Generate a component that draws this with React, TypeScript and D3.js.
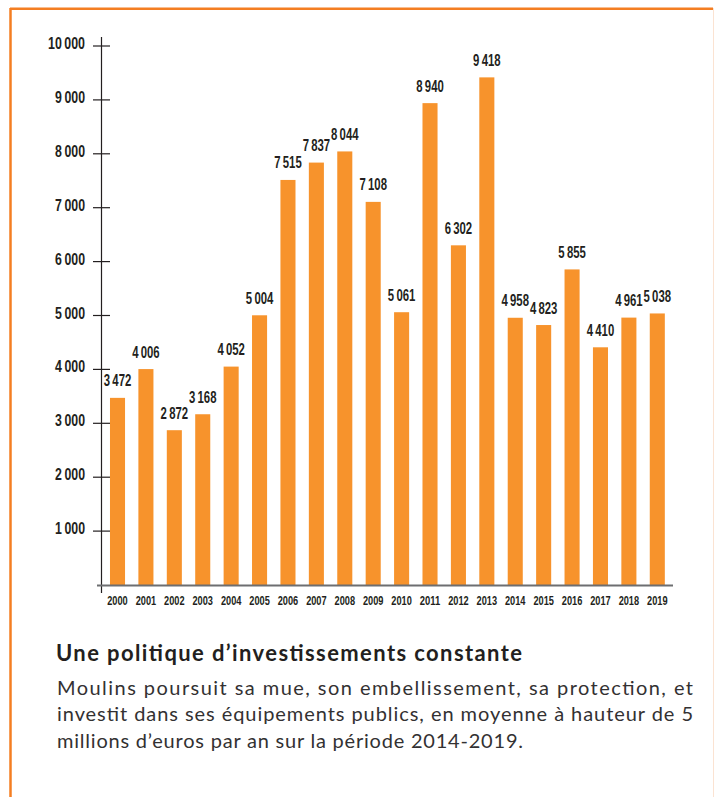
import React from "react";
import * as d3 from "d3";

const years = ["2000","2001","2002","2003","2004","2005","2006","2007","2008","2009","2010","2011","2012","2013","2014","2015","2016","2017","2018","2019"];
const investments = [3472,4006,2872,3168,4052,5004,7515,7837,8044,7108,5061,8940,6302,9418,4958,4823,5855,4410,4961,5038];
const yTicks = [1000,2000,3000,4000,5000,6000,7000,8000,9000,10000];

const titleText = "Une politique d\u2019investissements constante";
const bodyLines = [
  "Moulins poursuit sa mue, son embellissement, sa protection, et",
  "investit dans ses \u00e9quipements publics, en moyenne \u00e0 hauteur de 5",
  "millions d\u2019euros par an sur la p\u00e9riode 2014-2019.",
];

const fmt = (v: number) => {
  const s = String(v);
  if (s.length <= 3) return s;
  return s.slice(0, s.length - 3) + "\u2009" + s.slice(s.length - 3);
};
const digitCount = (v: number) => String(v).length;

const NUM = "'Liberation Sans', Arial, sans-serif";
const BODY = "Lato, 'Noto Sans', sans-serif";
const ORANGE = "#f7932c";
const BORDER = "#f47e22";
const INK = "#231f20";

export default function App() {
  const W = 715, H = 797;
  const y = d3.scaleLinear().domain([0, 10000]).range([585, 46]);
  const x = d3.scaleBand<string>().domain(years).range([103.3, 671.5]).paddingInner(0.47).paddingOuter(0.235);
  const axisX = 101.5;

  return (
    <svg width={W} height={H} style={{ position: "absolute", left: 0, top: 0, background: "#fff" }}>
      {/* frame */}
      <line x1={10} x2={713} y1={8.8} y2={8.8} stroke={BORDER} strokeWidth={2.5} />
      <line x1={10.5} x2={10.5} y1={8} y2={797} stroke={BORDER} strokeWidth={2.5} />
      <line x1={713.5} x2={713.5} y1={8} y2={797} stroke="#fbe3d2" strokeWidth={1} />

      {/* bars */}
      {investments.map((v, i) => (
        <rect key={years[i]} x={x(years[i])} y={y(v)} width={x.bandwidth()} height={y(0) - y(v)} fill={ORANGE} />
      ))}

      {/* value labels */}
      {investments.map((v, i) => (
        <text key={"l" + years[i]} x={(x(years[i]) as number) + x.bandwidth() / 2} y={y(v) - 11.5}
          textAnchor="middle" fontFamily={NUM} fontWeight="bold" fontSize={16.5} fill={INK}
          textLength={digitCount(v) * 6.5 + 1.5} lengthAdjust="spacingAndGlyphs">
          {fmt(v)}
        </text>
      ))}

      {/* y axis */}
      <line x1={axisX} x2={axisX} y1={37} y2={593} stroke={INK} strokeWidth={1.2} />
      {yTicks.map((t) => (
        <g key={t}>
          <line x1={93} x2={110} y1={y(t)} y2={y(t)} stroke={INK} strokeWidth={1.2} />
          <text x={85} y={y(t) + 3} textAnchor="end" fontFamily={NUM} fontWeight="bold" fontSize={16.5}
            fill={INK} textLength={digitCount(t) * 7.1 + 1.5} lengthAdjust="spacingAndGlyphs">
            {fmt(t)}
          </text>
        </g>
      ))}

      {/* baseline */}
      <line x1={97} x2={673} y1={y(0) + 0.5} y2={y(0) + 0.5} stroke="#6d6e71" strokeWidth={2} />

      {/* year labels */}
      {years.map((yr) => (
        <text key={"y" + yr} x={(x(yr) as number) + x.bandwidth() / 2} y={605} textAnchor="middle"
          fontFamily={NUM} fontWeight="bold" fontSize={13.5} fill={INK}
          textLength={20.5} lengthAdjust="spacingAndGlyphs">
          {yr}
        </text>
      ))}

      {/* text block */}
      <text x={56} y={661} fontFamily={BODY} fontWeight="bold" fontSize={22} fill={INK}
        textLength={466} lengthAdjust="spacing">
        {titleText}
      </text>
      {bodyLines.map((ln, i) => (
        <text key={i} x={57} y={695 + i * 26.3} fontFamily={BODY} fontSize={20} fill="#333132"
          textLength={i < 2 ? 636 : 466} lengthAdjust="spacing">
          {ln}
        </text>
      ))}
    </svg>
  );
}
